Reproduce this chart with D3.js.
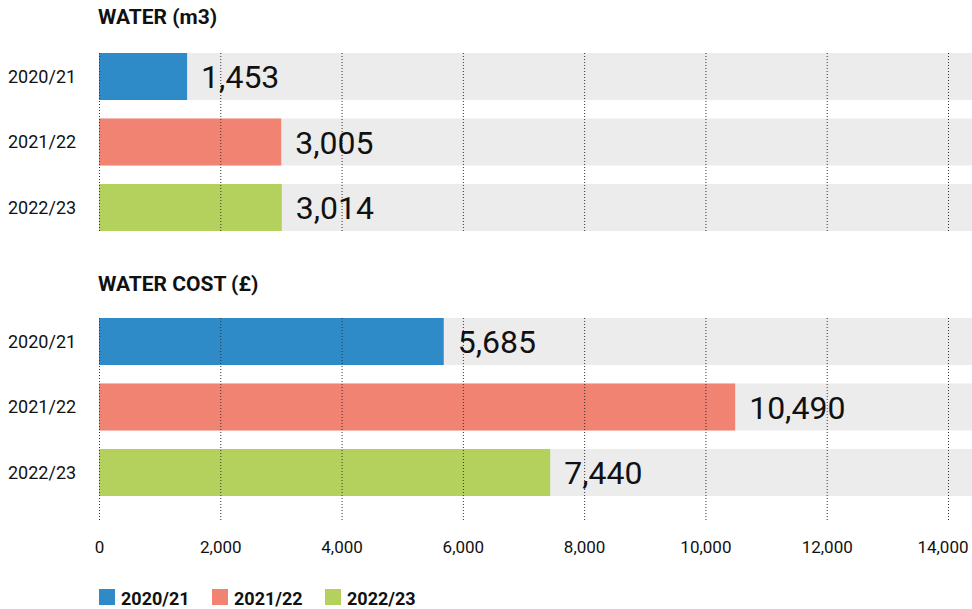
<!DOCTYPE html>
<html>
<head>
<meta charset="utf-8">
<script src="https://cdn.jsdelivr.net/npm/d3@7"></script>
<style>
  body { margin: 0; background: #fff; }
  text { font-family: Roboto, "Liberation Sans", sans-serif; fill: #111; }
</style>
</head>
<body>
<svg id="chart" width="972" height="609"></svg>
<script>
const years = ["2020/21", "2021/22", "2022/23"];
const colors = ["#2e8bc8", "#f08372", "#b5d15d"];
const waterValues = [1453, 3005, 3014];
const costValues = [5685, 10490, 7440];
const ticks = [0, 2000, 4000, 6000, 8000, 10000, 12000, 14000];

const svg = d3.select("#chart");
const fmt = d3.format(",");

const x = d3.scaleLinear().domain([0, 14000]).range([99, 948]);
const color = d3.scaleOrdinal().domain(years).range(colors);

// one panel = title + three rows
function drawPanel(title, values, titleY, top, gridBottom) {
  const y = d3.scaleBand()
    .domain(years)
    .range([top, top + 178])
    .paddingInner(0.282)
    .paddingOuter(0);

  const g = svg.append("g");

  g.append("text")
    .attr("x", 98)
    .attr("y", titleY)
    .attr("font-size", "21px")
    .attr("font-weight", "700")
    .text(title);

  // grey track
  g.selectAll("rect.track")
    .data(years)
    .join("rect")
    .attr("class", "track")
    .attr("x", x(0))
    .attr("y", d => y(d))
    .attr("width", 972 - x(0))
    .attr("height", y.bandwidth())
    .attr("fill", "#ececec");

  g.selectAll("rect.bar")
    .data(values)
    .join("rect")
    .attr("class", "bar")
    .attr("x", x(0))
    .attr("y", (d, i) => y(years[i]))
    .attr("width", d => x(d) - x(0))
    .attr("height", y.bandwidth())
    .attr("fill", (d, i) => color(years[i]));

  // dotted grid lines
  g.selectAll("line.grid")
    .data(ticks)
    .join("line")
    .attr("class", "grid")
    .attr("x1", d => x(d) + 0.5)
    .attr("x2", d => x(d) + 0.5)
    .attr("y1", top)
    .attr("y2", gridBottom)
    .attr("stroke", "#333")
    .attr("stroke-width", 1)
    .attr("stroke-dasharray", "1,2");

  g.selectAll("text.cat")
    .data(years)
    .join("text")
    .attr("class", "cat")
    .attr("x", 8)
    .attr("y", d => y(d) + y.bandwidth() / 2)
    .attr("dy", "0.35em")
    .attr("font-size", "18px")
    .text(d => d);

  g.selectAll("text.val")
    .data(values)
    .join("text")
    .attr("class", "val")
    .attr("x", d => x(d) + 14)
    .attr("y", (d, i) => y(years[i]) + y.bandwidth() / 2)
    .attr("dy", "0.36em")
    .attr("font-size", "32px")
    .text(d => fmt(d));
}

drawPanel("WATER (m3)", waterValues, 24, 53, 231);
drawPanel("WATER COST (£)", costValues, 291, 318, 520);

// x axis labels
const axis = d3.axisBottom(x).tickValues(ticks).tickFormat(fmt).tickSize(0).tickPadding(0);
const ax = svg.append("g").attr("transform", "translate(0,541)").call(axis);
ax.select(".domain").remove();
ax.selectAll("text")
  .attr("font-family", "Roboto, sans-serif")
  .attr("font-size", "17px")
  .attr("fill", "#111");
// keep the last label inside the page
ax.selectAll(".tick")
  .filter(d => d === 14000)
  .select("text")
  .attr("text-anchor", "end")
  .attr("x", 20);

// legend
const legend = svg.append("g")
  .selectAll("g")
  .data(years)
  .join("g")
  .attr("transform", (d, i) => `translate(${99 + i * 113},589)`);

legend.append("rect")
  .attr("width", 16)
  .attr("height", 16)
  .attr("fill", d => color(d));

legend.append("text")
  .attr("x", 22)
  .attr("y", 9)
  .attr("dy", "0.38em")
  .attr("font-size", "18px")
  .attr("font-weight", "700")
  .text(d => d);
</script>
</body>
</html>
